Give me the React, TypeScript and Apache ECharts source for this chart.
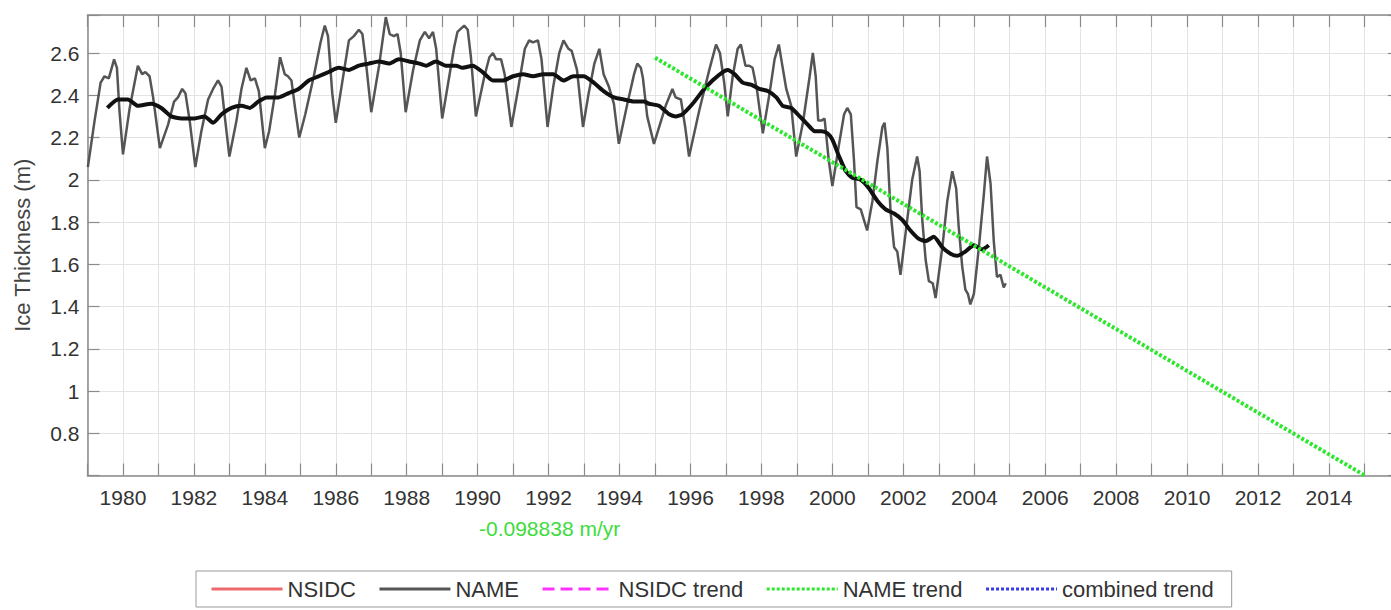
import React, { useEffect, useRef } from "react";
import * as echarts from "echarts";

// ---- data: [decimal year, ice thickness (m)] ----
const nameMonthly: number[][] = [
  [1979.01, 2.06], [1979.2, 2.28], [1979.37, 2.46], [1979.48, 2.49], [1979.6, 2.48], [1979.75, 2.57], [1979.83, 2.53], [1979.9, 2.33],
  [1980.0, 2.12], [1980.19, 2.34], [1980.42, 2.54], [1980.54, 2.5], [1980.63, 2.51], [1980.75, 2.49], [1980.85, 2.39],
  [1981.04, 2.15], [1981.27, 2.26], [1981.44, 2.37], [1981.55, 2.39], [1981.67, 2.43], [1981.76, 2.41], [1981.88, 2.28],
  [1982.04, 2.06], [1982.21, 2.23], [1982.4, 2.38], [1982.54, 2.43], [1982.68, 2.47], [1982.78, 2.44], [1982.87, 2.3],
  [1983.0, 2.11], [1983.2, 2.28], [1983.34, 2.43], [1983.48, 2.53], [1983.6, 2.47], [1983.72, 2.48], [1983.83, 2.42],
  [1984.0, 2.15], [1984.12, 2.23], [1984.29, 2.41], [1984.43, 2.58], [1984.56, 2.5], [1984.65, 2.49], [1984.75, 2.47], [1984.86, 2.33],
  [1984.97, 2.2], [1985.14, 2.31], [1985.38, 2.49], [1985.57, 2.65], [1985.69, 2.73], [1985.78, 2.68], [1985.9, 2.41],
  [1986.0, 2.27], [1986.18, 2.46], [1986.37, 2.66], [1986.51, 2.68], [1986.65, 2.71], [1986.75, 2.69], [1986.86, 2.54],
  [1987.0, 2.32], [1987.22, 2.54], [1987.41, 2.77], [1987.52, 2.69], [1987.64, 2.68], [1987.74, 2.69], [1987.83, 2.6],
  [1987.97, 2.32], [1988.18, 2.52], [1988.37, 2.66], [1988.51, 2.7], [1988.63, 2.67], [1988.74, 2.7], [1988.83, 2.62],
  [1989.0, 2.29], [1989.2, 2.49], [1989.34, 2.63], [1989.43, 2.7], [1989.62, 2.73], [1989.72, 2.71], [1989.81, 2.58],
  [1989.95, 2.3], [1990.19, 2.49], [1990.33, 2.58], [1990.43, 2.6], [1990.52, 2.57], [1990.66, 2.57], [1990.76, 2.5],
  [1990.95, 2.25], [1991.14, 2.43], [1991.33, 2.62], [1991.45, 2.66], [1991.56, 2.65], [1991.7, 2.66], [1991.8, 2.57],
  [1991.97, 2.25], [1992.13, 2.44], [1992.3, 2.6], [1992.42, 2.66], [1992.56, 2.62], [1992.65, 2.61], [1992.8, 2.52],
  [1992.97, 2.25], [1993.13, 2.41], [1993.29, 2.55], [1993.43, 2.62], [1993.55, 2.5], [1993.7, 2.44], [1993.84, 2.36],
  [1993.98, 2.17], [1994.22, 2.36], [1994.41, 2.5], [1994.5, 2.55], [1994.6, 2.53], [1994.66, 2.48], [1994.78, 2.3],
  [1994.97, 2.17], [1995.3, 2.35], [1995.49, 2.43], [1995.58, 2.39], [1995.73, 2.38], [1995.85, 2.25],
  [1995.96, 2.11], [1996.25, 2.33], [1996.53, 2.52], [1996.72, 2.64], [1996.83, 2.6], [1996.95, 2.46],
  [1997.05, 2.3], [1997.19, 2.49], [1997.33, 2.62], [1997.42, 2.64], [1997.55, 2.54], [1997.66, 2.54], [1997.75, 2.53], [1997.87, 2.43],
  [1998.04, 2.22], [1998.23, 2.41], [1998.37, 2.57], [1998.49, 2.64], [1998.58, 2.55], [1998.7, 2.43], [1998.84, 2.35],
  [1998.98, 2.11], [1999.17, 2.27], [1999.36, 2.49], [1999.45, 2.6], [1999.53, 2.49], [1999.6, 2.28], [1999.69, 2.28], [1999.78, 2.29], [1999.9, 2.09],
  [2000.0, 1.97], [2000.19, 2.17], [2000.33, 2.31], [2000.42, 2.34], [2000.52, 2.31], [2000.61, 2.09], [2000.68, 1.87], [2000.8, 1.86], [2000.89, 1.81],
  [2000.98, 1.76], [2001.13, 1.9], [2001.27, 2.09], [2001.41, 2.25], [2001.47, 2.27], [2001.55, 2.15], [2001.64, 1.85], [2001.74, 1.68], [2001.83, 1.66],
  [2001.92, 1.55], [2002.11, 1.81], [2002.25, 2.0], [2002.39, 2.11], [2002.46, 2.04], [2002.53, 1.82], [2002.63, 1.62], [2002.72, 1.52], [2002.83, 1.51],
  [2002.91, 1.44], [2003.1, 1.68], [2003.24, 1.9], [2003.38, 2.04], [2003.49, 1.96], [2003.56, 1.78], [2003.66, 1.59], [2003.75, 1.48], [2003.82, 1.46],
  [2003.89, 1.41], [2003.99, 1.46], [2004.13, 1.68], [2004.27, 1.93], [2004.36, 2.11], [2004.46, 1.98], [2004.55, 1.71], [2004.64, 1.54], [2004.74, 1.55],
  [2004.83, 1.49], [2004.89, 1.51],
];

const nameRunningMean: number[][] = [
  [1979.56, 2.34], [1979.86, 2.38], [1980.14, 2.38], [1980.42, 2.35], [1980.8, 2.36], [1981.08, 2.34], [1981.36, 2.3],
  [1981.65, 2.29], [1982.02, 2.29], [1982.3, 2.3], [1982.54, 2.27], [1982.78, 2.31], [1983.06, 2.34], [1983.34, 2.35],
  [1983.58, 2.34], [1983.81, 2.37], [1984.05, 2.39], [1984.39, 2.39], [1984.67, 2.41], [1984.95, 2.43], [1985.24, 2.47],
  [1985.52, 2.49], [1985.8, 2.51], [1986.08, 2.53], [1986.37, 2.52], [1986.65, 2.54], [1986.93, 2.55], [1987.22, 2.56],
  [1987.5, 2.55], [1987.78, 2.57], [1988.07, 2.56], [1988.36, 2.55], [1988.55, 2.54], [1988.82, 2.56], [1989.1, 2.54],
  [1989.39, 2.54], [1989.57, 2.53], [1989.86, 2.54], [1990.14, 2.51], [1990.43, 2.47], [1990.71, 2.47], [1991.0, 2.49],
  [1991.28, 2.5], [1991.56, 2.49], [1991.85, 2.5], [1992.13, 2.5], [1992.42, 2.47], [1992.7, 2.49], [1992.99, 2.49],
  [1993.27, 2.46], [1993.55, 2.42], [1993.84, 2.39], [1994.12, 2.38], [1994.41, 2.37], [1994.69, 2.37], [1994.83, 2.36],
  [1995.11, 2.35], [1995.4, 2.31], [1995.58, 2.3], [1995.77, 2.31], [1996.06, 2.36], [1996.34, 2.42], [1996.62, 2.47],
  [1996.91, 2.51], [1997.05, 2.52], [1997.24, 2.5], [1997.47, 2.46], [1997.71, 2.45], [1997.94, 2.43], [1998.18, 2.42],
  [1998.42, 2.39], [1998.6, 2.35], [1998.84, 2.34], [1999.08, 2.3], [1999.31, 2.26], [1999.5, 2.23], [1999.7, 2.23],
  [1999.86, 2.22], [2000.0, 2.19], [2000.19, 2.11], [2000.38, 2.04], [2000.56, 2.01], [2000.8, 2.0], [2001.03, 1.96],
  [2001.27, 1.9], [2001.5, 1.86], [2001.74, 1.84], [2001.97, 1.81], [2002.2, 1.76], [2002.44, 1.72], [2002.63, 1.71],
  [2002.86, 1.73], [2003.1, 1.68], [2003.33, 1.65], [2003.52, 1.64], [2003.75, 1.66], [2003.99, 1.69], [2004.22, 1.67],
  [2004.41, 1.69],
];

const nameTrend: number[][] = [
  [1995, 2.578],
  [2015, 0.601],
];

const nsidc: number[][] = [];
const nsidcTrend: number[][] = [];
const combinedTrend: number[][] = [];

const legendNames = ["NSIDC", "NAME", "NSIDC trend", "NAME trend", "combined trend"];
const trendLabel = "-0.098838 m/yr";

const X_MIN = 1979;
const X_MAX = 2016;
const Y_MIN = 0.6;
const Y_MAX = 2.78;

const FONT = "'Liberation Sans', Arial, Helvetica, sans-serif";
const AXIS_COLOR = "#8a8a8a";
const GRID_COLOR = "#e3e3e3";

function xLabel(v: number): string {
  const r = Math.round(v);
  if (Math.abs(v - r) > 1e-6) return "";
  if (r % 2 !== 0 || r >= 2015) return "";
  return String(r);
}

function yLabel(v: number): string {
  if (v < 0.7 || v > 2.7) return "";
  return String(Number(v.toFixed(1)));
}

const axisLine = { show: true, onZero: false, lineStyle: { color: AXIS_COLOR, width: 1.5 } };
const axisTick = { show: true, inside: true, length: 12, lineStyle: { color: AXIS_COLOR, width: 1.2 } };

const option: any = {
  animation: false,
  backgroundColor: "#ffffff",
  grid: { left: 87.5, top: 15, width: 1312.4, height: 460.5, containLabel: false },
  xAxis: [
    {
      type: "value",
      min: X_MIN,
      max: X_MAX,
      interval: 1,
      position: "bottom",
      axisLine,
      axisTick,
      axisLabel: { margin: 11, fontSize: 21, color: "#333", fontFamily: FONT, formatter: xLabel },
      splitLine: { show: true, lineStyle: { color: GRID_COLOR, width: 1 } },
    },
    {
      type: "value",
      min: X_MIN,
      max: X_MAX,
      interval: 1,
      position: "top",
      axisLine,
      axisTick,
      axisLabel: { show: false },
      splitLine: { show: false },
    },
  ],
  yAxis: [
    {
      type: "value",
      min: Y_MIN,
      max: Y_MAX,
      interval: 0.2,
      position: "left",
      name: "Ice Thickness (m)",
      nameLocation: "middle",
      nameGap: 54,
      nameTextStyle: { fontSize: 22, color: "#444", fontFamily: FONT },
      axisLine,
      axisTick,
      axisLabel: { margin: 8, fontSize: 21, color: "#333", fontFamily: FONT, formatter: yLabel },
      splitLine: { show: true, lineStyle: { color: GRID_COLOR, width: 1 } },
    },
    {
      type: "value",
      min: Y_MIN,
      max: Y_MAX,
      interval: 0.2,
      position: "right",
      axisLine,
      axisTick,
      axisLabel: { show: false },
      splitLine: { show: false },
    },
  ],
  legend: {
    data: legendNames,
    left: 196,
    top: 571,
    orient: "horizontal",
    padding: [7, 18, 7, 14],
    itemGap: 22,
    itemWidth: 71,
    itemHeight: 14,
    backgroundColor: "#ffffff",
    borderColor: "#9a9a9a",
    borderWidth: 1,
    selectedMode: false,
    textStyle: { fontSize: 22, color: "#333", fontFamily: FONT },
    itemStyle: { opacity: 0 },
    lineStyle: { width: 3 },
  },
  graphic: [
    {
      type: "text",
      left: 479,
      top: 518,
      style: { text: trendLabel, fill: "#3ddc3d", font: `21px ${FONT}` },
    },
  ],
  series: [
    {
      name: "NSIDC",
      type: "line",
      data: nsidc,
      symbol: "none",
      lineStyle: { color: "#ef6b6b", width: 2.5 },
      itemStyle: { color: "#ef6b6b" },
    },
    {
      name: "NAME",
      type: "line",
      data: nameMonthly,
      symbol: "none",
      z: 2,
      lineStyle: { color: "#555555", width: 2.5 },
      itemStyle: { color: "#555555" },
    },
    {
      name: "NAME running mean",
      type: "line",
      data: nameRunningMean,
      symbol: "none",
      smooth: 0.2,
      z: 3,
      lineStyle: { color: "#111111", width: 4 },
      itemStyle: { color: "#111111" },
    },
    {
      name: "NSIDC trend",
      type: "line",
      data: nsidcTrend,
      symbol: "none",
      lineStyle: { color: "#ff33ff", width: 2.5, type: "dashed" },
      itemStyle: { color: "#ff33ff" },
    },
    {
      name: "NAME trend",
      type: "line",
      data: nameTrend,
      symbol: "none",
      z: 4,
      lineStyle: { color: "#2fe62f", width: 4, type: [3, 2] },
      itemStyle: { color: "#2fe62f" },
    },
    {
      name: "combined trend",
      type: "line",
      data: combinedTrend,
      symbol: "none",
      lineStyle: { color: "#3a3ae6", width: 2.5, type: [3, 2] },
      itemStyle: { color: "#3a3ae6" },
    },
  ],
};

export default function App() {
  const ref = useRef<HTMLDivElement>(null);
  useEffect(() => {
    if (!ref.current) return;
    const chart = echarts.init(ref.current, null, { renderer: "svg" });
    chart.setOption(option);
    return () => {
      chart.dispose();
    };
  }, []);
  // The plot box runs past the right edge of the 1391px window, as in the reference.
  return (
    <div
      ref={ref}
      style={{ position: "fixed", left: 0, top: 0, width: 1420, height: 610, background: "#ffffff" }}
    />
  );
}
